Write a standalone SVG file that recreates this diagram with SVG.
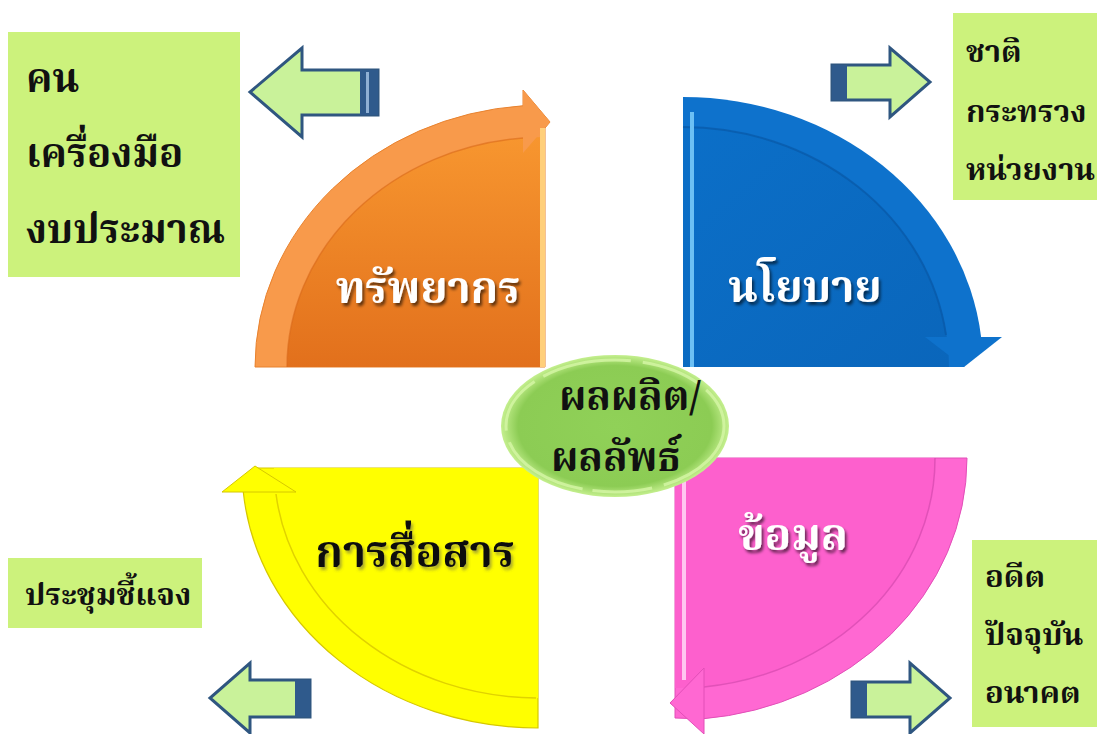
<svg xmlns="http://www.w3.org/2000/svg" width="1097" height="734" viewBox="0 0 1097 734">
<defs>
<style>
.box{fill:#ccf27c;}
.bt{font-family:"Noto Serif Thai","Noto Sans Thai","Loma","Garuda","Tahoma","DejaVu Sans",serif;fill:#111;font-weight:bold;}
.ql{font-family:"Noto Serif Thai","Noto Sans Thai","Loma","Garuda","Tahoma","DejaVu Sans",serif;font-weight:bold;font-size:44px;text-anchor:middle;}
.arr{fill:#c9f29a;stroke:#2f5680;stroke-width:3;stroke-linejoin:miter;}
.blk{fill:#2f5a8c;}
</style>
<linearGradient id="gOr" x1="0" y1="0" x2="0" y2="1">
<stop offset="0" stop-color="#f7962f"/><stop offset="1" stop-color="#e2701c"/>
</linearGradient>
<linearGradient id="gBl" x1="0" y1="0" x2="1" y2="1">
<stop offset="0" stop-color="#0b6fc8"/><stop offset="1" stop-color="#0a66bb"/>
</linearGradient>
<radialGradient id="gGr" cx="0.5" cy="0.5" r="0.5">
<stop offset="0" stop-color="#90d158"/><stop offset="0.85" stop-color="#8ccc54"/><stop offset="1" stop-color="#c4ef8e"/>
</radialGradient>
<filter id="sh" x="-10%" y="-20%" width="130%" height="150%">
<feDropShadow dx="2" dy="3" stdDeviation="1.5" flood-color="#000" flood-opacity="0.6"/>
</filter>
<filter id="shl" x="-10%" y="-20%" width="130%" height="150%">
<feDropShadow dx="2" dy="3" stdDeviation="1.5" flood-color="#555" flood-opacity="0.5"/>
</filter>
</defs>
<rect width="1097" height="734" fill="#ffffff"/>

<g id="node-resources">
<path d="M545,367 L255,367 A290,262 0 0 1 523,105.75 L523,90 L550,122 L545,128 Z" fill="#f89a4b" stroke="#e8822e" stroke-width="1"/>
<path d="M287,367 A258,230 0 0 1 545,137 L545,367 Z" fill="url(#gOr)"/>
<path d="M287,367 A258,230 0 0 1 523,138" fill="none" stroke="#d9691a" stroke-width="1.5" opacity="0.6"/>
<polygon points="523,90 550,122 523,153" fill="#f89a4b"/>
<rect x="540" y="128" width="5" height="239" fill="#ffcf7a"/>
<text class="ql" x="428" y="303" fill="#ffffff" filter="url(#sh)">ทรัพยากร</text>
</g>

<g id="node-policy">
<path d="M683,367 L683,97 A300,270 0 0 1 981.1,337 L964,367 Z" fill="#0e72cc"/>
<path d="M683,367 L683,127 A266,240 0 0 1 949,367 Z" fill="url(#gBl)"/>
<path d="M683,127 A266,240 0 0 1 946,335" fill="none" stroke="#0958a6" stroke-width="2" opacity="0.7"/>
<polygon points="925,337 1002,337 964,367" fill="#0e72cc"/>
<rect x="690" y="112" width="4" height="255" fill="#6cc0f4"/>
<text class="ql" x="805" y="302" fill="#ffffff" filter="url(#sh)">นโยบาย</text>
</g>

<g id="node-data">
<path d="M675,458 L967,458 A292,262 0 0 1 702,718.9 L675,718 Z" fill="#ff68d2" stroke="#e24fb8" stroke-width="1"/>
<path d="M675,458 L935,458 A260,230 0 0 1 675,688 Z" fill="#fd60cd"/>
<path d="M935,458 A260,230 0 0 1 704,687" fill="none" stroke="#d448ae" stroke-width="1.5" opacity="0.7"/>
<polygon points="704,668 704,734 670,703" fill="#ff68d2" stroke="#e24fb8" stroke-width="1"/>
<rect x="682" y="470" width="4" height="210" fill="#ffc6f0"/>
<text class="ql" x="793" y="550" fill="#ffffff" filter="url(#sh)">ข้อมูล</text>
</g>

<g id="node-communication">
<path d="M538,468 L538,728 A296,260 0 0 1 243.3,492 L255,468 Z" fill="#ffff00" stroke="#d6c800" stroke-width="1.2"/>
<path d="M538,468 L538,698 A264,230 0 0 1 274,468 Z" fill="#ffff00"/>
<path d="M536,698 A264,230 0 0 1 276,494" fill="none" stroke="#e0d200" stroke-width="1.5"/>
<polygon points="222,492 296,492 255,466" fill="#ffff00" stroke="#d6c800" stroke-width="1"/>
<text class="ql" x="415" y="567" fill="#111111" filter="url(#shl)">การสื่อสาร</text>
</g>

<g id="node-output">
<ellipse cx="615" cy="426" rx="114" ry="71" fill="url(#gGr)"/>
<ellipse cx="615" cy="426" rx="109" ry="66" fill="none" stroke="#d6f6a6" stroke-width="3" stroke-dasharray="90 12 60 10" opacity="0.8"/>
<text class="bt" font-size="40" text-anchor="middle" x="630" y="410" fill="#15260c">ผลผลิต/</text>
<text class="bt" font-size="40" text-anchor="middle" x="616" y="471" fill="#15260c">ผลลัพธ์</text>
</g>

<g id="box-resources">
<rect class="box" x="8" y="32" width="232" height="245"/>
<text class="bt" font-size="40" x="26" y="92">คน</text>
<text class="bt" font-size="40" x="26" y="167">เครื่องมือ</text>
<text class="bt" font-size="40" x="26" y="243">งบประมาณ</text>
</g>

<g id="box-policy">
<rect class="box" x="953" y="13" width="144" height="187"/>
<text class="bt" font-size="31" x="966" y="62">ชาติ</text>
<text class="bt" font-size="31" x="966" y="122">กระทรวง</text>
<text class="bt" font-size="31" x="966" y="180">หน่วยงาน</text>
</g>

<g id="box-communication">
<rect class="box" x="8" y="558" width="194" height="70"/>
<text class="bt" font-size="31" x="25" y="605">ประชุมชี้แจง</text>
</g>

<g id="box-data">
<rect class="box" x="972" y="540" width="125" height="187"/>
<text class="bt" font-size="31" x="985" y="587">อดีต</text>
<text class="bt" font-size="31" x="985" y="645">ปัจจุบัน</text>
<text class="bt" font-size="31" x="985" y="703">อนาคต</text>
</g>

<g id="connectors">
<g id="arrow-tl">
<polygon class="arr" points="378,70 302,70 302,48 250,92 302,137 302,115 378,115"/>
<rect class="blk" x="360" y="70" width="18" height="45"/>
<rect x="366" y="72" width="3" height="41" fill="#8fb0d4"/>
</g>
<g id="arrow-tr">
<polygon class="arr" points="832,65 890,65 890,48 930,82 890,117 890,100 832,100"/>
<rect class="blk" x="832" y="65" width="15" height="35"/>
</g>
<g id="arrow-bl">
<polygon class="arr" points="310,680 250,680 250,663 210,698 250,733 250,717 310,717"/>
<rect class="blk" x="295" y="680" width="15" height="37"/>
</g>
<g id="arrow-br">
<polygon class="arr" points="852,682 910,682 910,663 950,698 910,733 910,717 852,717"/>
<rect class="blk" x="852" y="682" width="15" height="35"/>
</g>
</g>
</svg>
